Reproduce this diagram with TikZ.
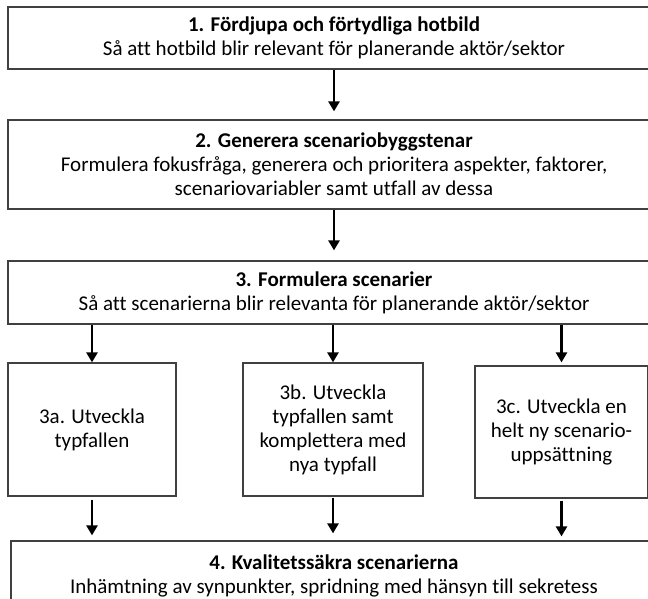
\documentclass[tikz,border=0pt]{standalone}
\usepackage{fontspec}
\setmainfont{Carlito}[Ligatures=NoCommon]
\usetikzlibrary{arrows.meta}

\begin{document}
\begin{tikzpicture}[x=1pt,y=-1pt,
        box/.style={draw=black!75, line width=1.2pt, align=center, inner sep=0pt,
            font={\fontsize{21}{24}\selectfont}},
        pil/.style={line width=2.6pt, -{Triangle[length=10pt,width=11pt]}}]
            \useasboundingbox (0,0) rectangle (648,598);
            \clip (0,0) rectangle (648,598);

            % main steps
            \node[box, minimum width=652pt, minimum height=62pt] (fordjupa) at (334,38)
                {\textbf{1. Fördjupa och förtydliga hotbild}\\Så att hotbild blir relevant för planerande aktör/sektor};
            \node[box, minimum width=652pt, minimum height=89pt] (generera) at (334,164.5)
                {\textbf{2. Generera scenariobyggstenar}\\Formulera fokusfråga, generera och prioritera aspekter, faktorer,\\scenariovariabler samt utfall av dessa};
            \node[box, minimum width=652pt, minimum height=63pt] (formulera) at (334,292.5)
                {\textbf{3. Formulera scenarier}\\Så att scenarierna blir relevanta för planerande aktör/sektor};

            % alternatives
            \node[box, minimum width=168pt, minimum height=133pt] (utva) at (92,429.5)
                {3a. Utveckla\\typfallen};
            \node[box, minimum width=180pt, minimum height=133pt] (utvb) at (333,429.5)
                {3b. Utveckla\\typfallen samt\\komplettera med\\nya typfall};
            \node[box, minimum width=173pt, minimum height=132pt] (utvc) at (561.5,432)
                {3c. Utveckla en\\helt ny scenario-\\uppsättning};

            \node[box, minimum width=646pt, minimum height=70pt] (kvalitet) at (334,576)
                {\textbf{4. Kvalitetssäkra scenarierna}\\Inhämtning av synpunkter, spridning med hänsyn till sekretess};

            \draw[pil, shorten >=8pt] (fordjupa) -- (generera);
            \draw[pil, shorten >=10pt] (generera) -- (formulera);
            \draw[pil] (formulera.south -| utva) -- (utva);
            \draw[pil] (formulera.south -| utvb) -- (utvb);
            \draw[pil, shorten >=3pt] (formulera.south -| utvc) -- (utvc);
            \draw[pil, shorten <=3pt, shorten >=5pt] (utva) -- (utva |- kvalitet.north);
            \draw[pil, shorten <=1pt, shorten >=7pt] (utvb) -- (utvb |- kvalitet.north);
            \draw[pil, shorten <=2pt, shorten >=4pt] (utvc) -- (utvc |- kvalitet.north);
        \end{tikzpicture}
\end{document}
